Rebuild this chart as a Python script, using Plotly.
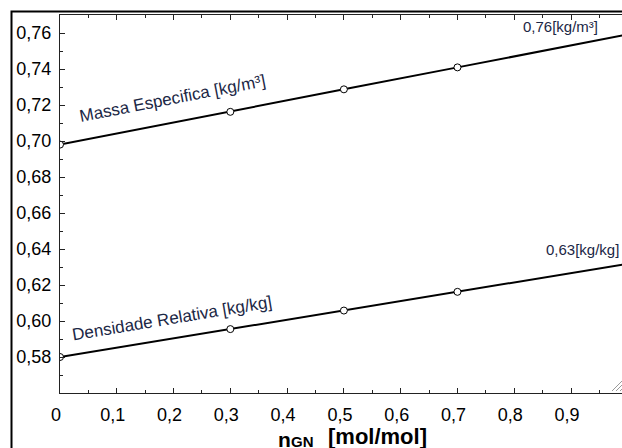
import plotly.graph_objects as go

# Natural-gas molar fraction and the resulting mixture properties
n_gn = [0.0, 0.3, 0.5, 0.7, 1.0]
massa_especifica = [0.698, 0.7162, 0.7287, 0.7409, 0.7592]   # kg/m3
densidade_relativa = [0.580, 0.5955, 0.6058, 0.6162, 0.6318]  # kg/kg

x_tick_vals = [0.0, 0.1, 0.2, 0.3, 0.4, 0.5, 0.6, 0.7, 0.8, 0.9]
x_tick_text = ["0", "0,1", "0,2", "0,3", "0,4", "0,5", "0,6", "0,7", "0,8", "0,9"]
y_tick_vals = [0.58, 0.60, 0.62, 0.64, 0.66, 0.68, 0.70, 0.72, 0.74, 0.76]

W, H = 622, 448
ML, MT, MB = 60, 15, 55
PW, PH = W - ML, H - MT - MB

FONT = "Arial, Liberation Sans, sans-serif"
LABEL_COLOR = "#1b2745"


def px_to_paper(px, py):
    return (px - ML) / PW, (H - MB - py) / PH


fig = go.Figure()

line_style = dict(color="black", width=2)
marker_style = dict(symbol="circle", size=7, color="white",
                    line=dict(color="black", width=1))

fig.add_trace(go.Scatter(x=n_gn, y=massa_especifica, mode="lines+markers",
                         line=line_style, marker=marker_style,
                         name="Massa Especifica", showlegend=False))
fig.add_trace(go.Scatter(x=n_gn, y=densidade_relativa, mode="lines+markers",
                         line=line_style, marker=marker_style,
                         name="Densidade Relativa", showlegend=False))


def paper_text(px, py, text, size, xanchor="center", color="black"):
    x, y = px_to_paper(px, py)
    return dict(x=x, y=y, xref="paper", yref="paper", text=text, showarrow=False,
                xanchor=xanchor, yanchor="middle",
                font=dict(family=FONT, size=size, color=color))


annotations = [
    dict(x=0.199, y=0.7236, xref="x", yref="y", text="Massa Especifica [kg/m³]",
         textangle=-11, showarrow=False, xanchor="center", yanchor="middle",
         font=dict(family=FONT, size=17, color=LABEL_COLOR)),
    dict(x=0.197, y=0.6012, xref="x", yref="y", text="Densidade Relativa [kg/kg]",
         textangle=-9.5, showarrow=False, xanchor="center", yanchor="middle",
         font=dict(family=FONT, size=17, color=LABEL_COLOR)),
    dict(x=0.951, y=0.7638, xref="x", yref="y", xanchor="right", yanchor="middle",
         text="0,76[kg/m³]", showarrow=False,
         font=dict(family=FONT, size=15, color=LABEL_COLOR)),
    paper_text(621, 250, "0,63[kg/kg]", 15, xanchor="right", color=LABEL_COLOR),
    # tick label for x = 1 sits at the right edge of the canvas
    paper_text(628, 413, "1", 18),
    # axis title: n, subscript GN, unit
    paper_text(276, 439, "<b>n</b>", 21, xanchor="left"),
    paper_text(289, 442, "<b>GN</b>", 15, xanchor="left"),
    paper_text(326, 437, "<b>[mol/mol]</b>", 22, xanchor="left"),
]

# outer window frame
fx0, fy1 = px_to_paper(11.5, 11.5)
shapes = [
    dict(type="rect", xref="paper", yref="paper", x0=fx0, x1=1.2, y0=-0.4, y1=fy1,
         line=dict(color="black", width=2), layer="above"),
]
# resize grip in the corner
for (a, b, c, d) in [(612, 391, 622, 381), (616, 391, 622, 385), (620, 391, 622, 389)]:
    x0, y0 = px_to_paper(a, b)
    x1, y1 = px_to_paper(c, d)
    shapes.append(dict(type="line", xref="paper", yref="paper", x0=x0, y0=y0, x1=x1, y1=y1,
                       line=dict(color="#9a9a9a", width=1)))

fig.update_layout(
    width=W, height=H,
    margin=dict(l=ML, r=0, t=MT, b=MB, pad=0),
    paper_bgcolor="white", plot_bgcolor="white",
    separators=",.",
    font=dict(family=FONT, size=18, color="black"),
    annotations=annotations,
    shapes=shapes,
    showlegend=False,
)

fig.update_xaxes(
    range=[0, (W - ML) / 567.8],
    tickmode="array", tickvals=x_tick_vals, ticktext=x_tick_text,
    ticks="inside", ticklen=5, tickwidth=1, tickcolor="#222",
    minor=dict(dtick=0.05, tick0=0, ticks="inside", ticklen=3, tickcolor="#222"),
    showline=True, linecolor="#222", linewidth=1, mirror="ticks",
    showgrid=False, zeroline=False,
    tickfont=dict(family=FONT, size=18, color="black"),
    ticklabelstandoff=5, ticklabelshift=-4,
)
fig.update_yaxes(
    range=[0.56, 0.77],
    tickmode="array", tickvals=y_tick_vals, tickformat=".2f",
    ticks="inside", ticklen=5, tickwidth=1, tickcolor="#222",
    minor=dict(dtick=0.01, tick0=0.56, ticks="inside", ticklen=3, tickcolor="#222"),
    showline=True, linecolor="#222", linewidth=1, mirror=False,
    showgrid=False, zeroline=False,
    tickfont=dict(family=FONT, size=18, color="black"),
    ticklabelstandoff=4,
)

fig.write_html("out.html")
